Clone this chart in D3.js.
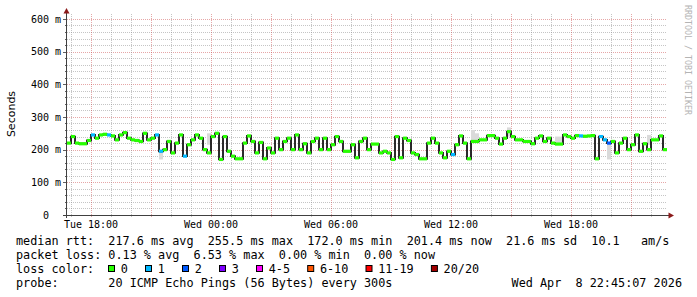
<!DOCTYPE html>
<html><head><meta charset="utf-8">
<script src="https://cdn.jsdelivr.net/npm/d3@7"></script>
<style>
body{margin:0;background:#fff}
svg{display:block}
text{font-family:"DejaVu Sans Mono",monospace;fill:#000}
</style></head>
<body><svg id="c" width="697" height="297"></svg>
<script>
// ---- data ----
const seriesStart = "2026-04-07T16:48:00Z";
const seriesEnd = "2026-04-08T22:48:00Z";
const stepMinutes = 12;
const medianRtt = [
 220,240,220,218,218,228,245,235,245,247,245,242,230,245,252,235,230,228,225,250,230,235,245,195,200,225,190,220,245,180,
 215,230,245,235,200,190,240,250,170,240,195,180,172,172,220,242,225,190,222,172,205,190,235,200,225,235,200,245,200,218,
 190,225,235,200,235,200,215,240,225,195,195,215,175,225,235,200,217,217,190,195,190,170,240,175,235,228,190,185,172,172,
 220,235,220,190,175,195,185,215,242,220,172,225,225,230,230,243,243,235,217,235,255,240,230,230,225,225,218,235,242,225,
 235,220,217,217,245,240,235,243,242,241,242,243,172,240,230,220,225,190,220,235,200,215,245,195,218,200,230,230,242,200
];
const lossIdx = [6,10,22,23,29,96,128,133,134,135];
const lossVal = [1,1,1,1,1,1,1,1,1,2];
const smokeIdx = [23,35,101,102,110,122,123,135,145];
const smokeLo  = [170,215,225,225,240,217,215,170,215];
const smokeHi  = [200,250,260,250,268,240,240,220,245];
const yTicks = [0,100,200,300,400,500,600];
const yTickLabels = ["0  ","100 m","200 m","300 m","400 m","500 m","600 m"];
const lossLabels = ["0","1","2","3","4-5","6-10","11-19","20/20"];
const lossColors = ["#26ff00","#00b8ff","#0059ff","#7e00ff","#ff00ff","#ff5500","#ff0000","#a10000"];
const legendRtt = "median rtt:  217.6 ms avg  255.5 ms max  172.0 ms min  201.4 ms now  21.6 ms sd  10.1   am/s";
const legendLoss = "packet loss: 0.13 % avg  6.53 % max  0.00 % min  0.00 % now";
const legendColorTitle = "loss color:";
const legendProbe = "probe:       20 ICMP Echo Pings (56 Bytes) every 300s";
const legendDate = "Wed Apr  8 22:45:07 2026";
const yTitle = "Seconds";
const watermark = "RRDTOOL / TOBI OETIKER";

// ---- chart ----
const nb = s => s.replace(/ /g, "\u00A0");
const svg = d3.select("#c");
const t0 = new Date(seriesStart), t1 = new Date(seriesEnd);
const x = d3.scaleUtc().domain([t0, t1]).range([67, 667]);
const y = d3.scaleLinear().domain([0, 612]).range([215, 15]);
const tAt = i => d3.utcMinute.offset(t0, i * stepMinutes);
const lossOf = i => { const k = lossIdx.indexOf(i); return k < 0 ? 0 : lossVal[k]; };
const bucket = l => l === 0 ? 0 : l === 1 ? 1 : l === 2 ? 2 : l === 3 ? 3 : l <= 5 ? 4 : l <= 10 ? 5 : l <= 19 ? 6 : 7;

const minorCol = "rgba(140,140,140,0.5)", majorCol = "rgba(200,60,60,0.45)";
const g = svg.append("g");

// horizontal grid
const hMinor = d3.range(20, 612, 20).filter(v => v % 100 !== 0);
g.selectAll(".hm").data(hMinor).join("line")
  .attr("x1", 67).attr("x2", 667).attr("y1", d => Math.round(y(d)) + 0.5).attr("y2", d => Math.round(y(d)) + 0.5)
  .attr("stroke", minorCol).attr("stroke-dasharray", "1,1");
g.selectAll(".hM").data(yTicks.filter(v => v > 0)).join("line")
  .attr("x1", 67).attr("x2", 667).attr("y1", d => Math.round(y(d)) + 0.5).attr("y2", d => Math.round(y(d)) + 0.5)
  .attr("stroke", majorCol).attr("stroke-dasharray", "1,1");

// vertical grid
const hours = d3.utcHour.range(t0, t1);
const vMinor = hours.filter(d => d.getUTCHours() % 3 !== 0);
const vMajor = hours.filter(d => d.getUTCHours() % 3 === 0);
g.selectAll(".vm").data(vMinor).join("line")
  .attr("x1", d => Math.round(x(d)) + 0.5).attr("x2", d => Math.round(x(d)) + 0.5).attr("y1", 14).attr("y2", 217)
  .attr("stroke", minorCol).attr("stroke-dasharray", "1,1");
g.selectAll(".vM").data(vMajor).join("line")
  .attr("x1", d => Math.round(x(d)) + 0.5).attr("x2", d => Math.round(x(d)) + 0.5).attr("y1", 14).attr("y2", 218)
  .attr("stroke", majorCol).attr("stroke-dasharray", "1,1");

// y ticks
g.selectAll(".yt").data(d3.range(0, 612, 20)).join("line")
  .attr("x1", d => d % 100 === 0 ? 63 : 65).attr("x2", 67)
  .attr("y1", d => Math.round(y(d)) + 0.5).attr("y2", d => Math.round(y(d)) + 0.5)
  .attr("stroke", "#606060");

// smoke
g.selectAll(".smoke").data(smokeIdx).join("rect")
  .attr("x", d => x(tAt(d))).attr("width", d => x(tAt(d + 1)) - x(tAt(d)))
  .attr("y", (d, k) => y(smokeHi[k])).attr("height", (d, k) => y(smokeLo[k]) - y(smokeHi[k]))
  .attr("fill", "#dadada");

// median step line
const pts = medianRtt.map((v, i) => [x(tAt(i)), y(v)]);
pts.push([x(tAt(medianRtt.length)), y(medianRtt[medianRtt.length - 1])]);
g.append("path").attr("d", d3.line().curve(d3.curveStepAfter)(pts))
  .attr("fill", "none").attr("stroke", "#151515").attr("stroke-width", 1.8);

// loss coloured bands
g.selectAll(".band").data(medianRtt).join("rect")
  .attr("x", (d, i) => x(tAt(i))).attr("width", (d, i) => x(tAt(i + 1)) - x(tAt(i)))
  .attr("y", d => y(d) - 1.6).attr("height", 3.2)
  .attr("fill", (d, i) => lossColors[bucket(lossOf(i))]);

// axes
const axisCol = "#404040", arrowCol = "#8b1a1a";
g.append("line").attr("x1", 66.5).attr("x2", 66.5).attr("y1", 13).attr("y2", 218).attr("stroke", axisCol);
g.append("line").attr("x1", 63).attr("x2", 669).attr("y1", 215.5).attr("y2", 215.5).attr("stroke", axisCol);
g.append("path").attr("d", "M66.5,8 L63.5,13.5 L69.5,13.5 Z").attr("fill", arrowCol);
g.append("path").attr("d", "M674,215.5 L668.5,212.5 L668.5,218.5 Z").attr("fill", arrowCol);

// x tick labels
const xLab = x.ticks(d3.utcHour.every(6));
g.selectAll(".xl").data(xLab).join("text")
  .attr("x", d => x(d)).attr("y", 228).attr("text-anchor", "middle")
  .style("font-size", "10px").text(d => nb(d3.utcFormat("%a %H:%M")(d)));

// y tick labels
g.selectAll(".yl").data(yTicks).join("text")
  .attr("x", 61).attr("y", d => y(d) + 3.7).attr("text-anchor", "end")
  .style("font-size", "10px")
  .text((d, i) => nb(yTickLabels[i]));

// y title
svg.append("text").attr("transform", "translate(15,114) rotate(-90)").attr("text-anchor", "middle")
  .style("font-family", "'DejaVu Sans',sans-serif").style("font-size", "11px").text(yTitle);

// watermark
svg.append("text").attr("transform", "translate(685,5) rotate(90)")
  .style("font-size", "8.3px").style("fill", "#b4b4b4").text(nb(watermark));

// legend
const lf = "11.8px", cw = 7.1;
const leg = svg.append("g").style("font-size", lf);
leg.append("text").attr("x", 16).attr("y", 245).text(nb(legendRtt));
leg.append("text").attr("x", 16).attr("y", 259).text(nb(legendLoss));
leg.append("text").attr("x", 16).attr("y", 273).text(nb(legendColorTitle));
leg.append("text").attr("x", 16).attr("y", 287).text(nb(legendProbe));
leg.append("text").attr("x", 682).attr("y", 287).attr("text-anchor", "end").text(nb(legendDate));
let sx = 108;
lossLabels.forEach((lab, k) => {
  leg.append("rect").attr("x", sx + 0.5).attr("y", 265.5).attr("width", 6).attr("height", 6)
    .attr("fill", lossColors[k]).attr("stroke", "#000");
  leg.append("text").attr("x", sx + 12.7).attr("y", 273).text(lab);
  sx = sx + 12.7 + (lab.length + 2) * cw + 3;
});
</script></body></html>
